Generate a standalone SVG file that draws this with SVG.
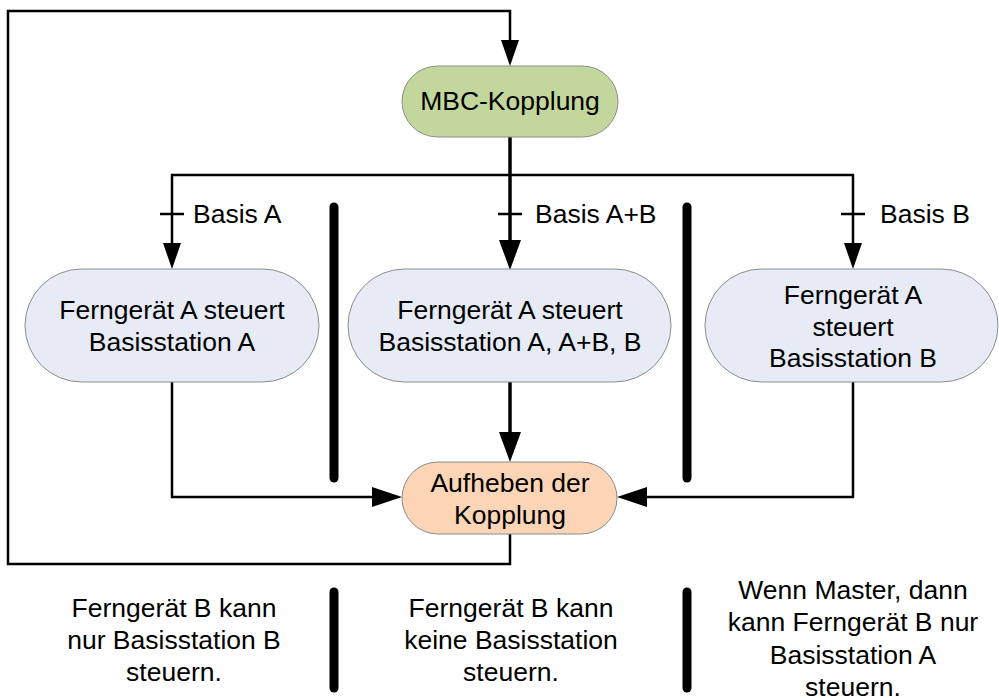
<svg xmlns="http://www.w3.org/2000/svg" width="999" height="698" viewBox="0 0 999 698">
<defs>
<style>
text{font-family:"Liberation Sans",Arial,sans-serif;font-size:26.5px;fill:#000;text-anchor:middle}
.lbl{text-anchor:start}
.node{stroke:#8c8c8c;stroke-width:1}
.ln{fill:none;stroke:#000;stroke-width:2.5}
.thick{fill:none;stroke:#000;stroke-width:3.5}
.bar{stroke:#000;stroke-width:9;stroke-linecap:round}
</style>
</defs>
<rect width="999" height="698" fill="#fff"/>
<g id="connectors">
<path class="ln" d="M510,534 V564 H8 V11 H510 V43"/>
<path d="M501,40 L519,40 L510,66 z"/>
<path class="thick" d="M510,137 V244"/>
<path d="M499,240 L521,240 L510,270 z"/>
<path class="ln" d="M172,244 V175 H853 V244"/>
<path d="M163,243 L181,243 L172,269 z"/>
<path d="M844,243 L862,243 L853,269 z"/>
<path class="ln" d="M160,214 H184 M498,214 H522 M841,214 H865"/>
<path class="ln" d="M172,382 V497 H376"/>
<path d="M372,487 L372,507 L402,497 z"/>
<path class="ln" d="M853,382 V497 H644"/>
<path d="M647,487 L647,507 L617,497 z"/>
<path class="thick" d="M510,382 V436"/>
<path d="M499,432 L521,432 L510,462 z"/>
</g>
<g id="guards">
<text class="lbl" x="193" y="223">Basis A</text>
<text class="lbl" x="535" y="223">Basis A+B</text>
<text class="lbl" x="880" y="223">Basis B</text>
</g>
<g id="bars">
<line class="bar" x1="334" y1="207" x2="334" y2="478"/>
<line class="bar" x1="687" y1="207" x2="687" y2="478"/>
<line class="bar" x1="334" y1="592" x2="334" y2="688"/>
<line class="bar" x1="687" y1="592" x2="687" y2="688"/>
</g>
<g id="n_mbc">
<rect class="node" x="402" y="66" width="216" height="71" rx="35.5" fill="#c3d69b"/>
<text x="510" y="110">MBC-Kopplung</text>
</g>
<g id="n_a">
<rect class="node" x="25" y="269" width="294" height="113" rx="56.5" fill="#e6ebf5"/>
<text x="172" y="319">Ferngerät A steuert</text>
<text x="172" y="351">Basisstation A</text>
</g>
<g id="n_ab">
<rect class="node" x="348" y="269" width="323" height="113" rx="56.5" fill="#e6ebf5"/>
<text x="510" y="319">Ferngerät A steuert</text>
<text x="510" y="351">Basisstation A, A+B, B</text>
</g>
<g id="n_b">
<rect class="node" x="705" y="269" width="293" height="113" rx="56.5" fill="#e6ebf5"/>
<text x="853" y="304">Ferngerät A</text>
<text x="853" y="336">steuert</text>
<text x="853" y="367">Basisstation B</text>
</g>
<g id="n_end">
<rect class="node" x="402" y="462" width="215" height="72" rx="36" fill="#fbd5b5"/>
<text x="510" y="492">Aufheben der</text>
<text x="510" y="524">Kopplung</text>
</g>
<g id="notes">
<text x="174" y="617">Ferngerät B kann</text>
<text x="174" y="649">nur Basisstation B</text>
<text x="174" y="681">steuern.</text>
<text x="511" y="617">Ferngerät B kann</text>
<text x="511" y="649">keine Basisstation</text>
<text x="511" y="681">steuern.</text>
<text x="853" y="599">Wenn Master, dann</text>
<text x="853" y="631">kann Ferngerät B nur</text>
<text x="853" y="664">Basisstation A</text>
<text x="853" y="696">steuern.</text>
</g>
</svg>
